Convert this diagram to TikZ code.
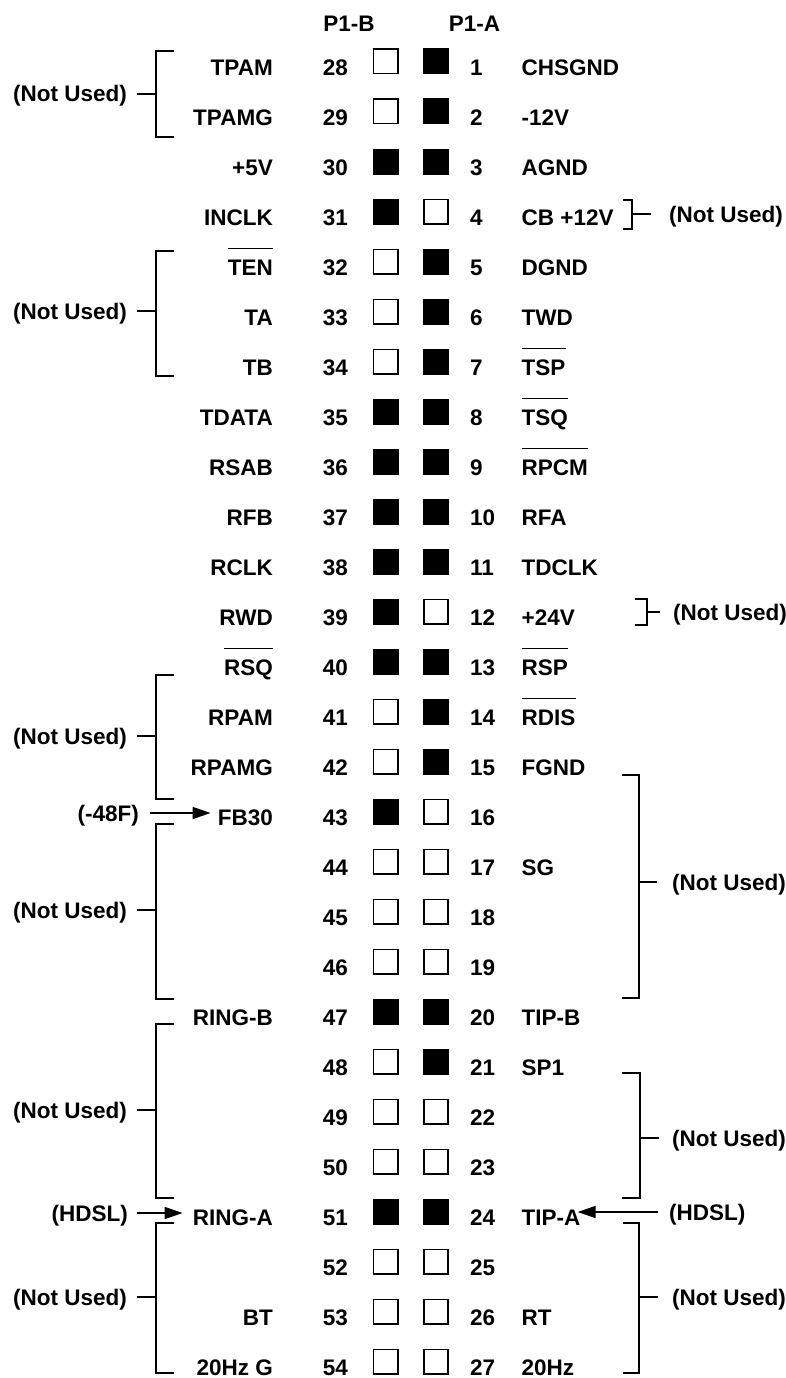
\documentclass[tikz,border=0pt]{standalone}
\usepackage{fontspec}
\setmainfont{Liberation Sans}
\usetikzlibrary{arrows.meta}
\tikzset{
  lbl/.style={font=\fontsize{22.5}{26}\selectfont\bfseries, inner sep=0pt, text height=16pt, text depth=0pt},
  pinon/.style={fill=black, minimum size=26pt, inner sep=0pt},
  pinoff/.style={draw=black, fill=white, line width=1.6pt, minimum size=24.4pt, inner sep=0pt},
  brk/.style={line width=1.8pt},
  ovl/.style={line width=1.5pt},
  arr/.style={line width=1.6pt, -{Triangle[length=18pt,width=12pt]}}
}
\newcommand\pinrow[7]{%
  \pgfmathsetmacro\yb{75.5+50*#1}%
  \if\relax\detokenize{#2}\relax\else\node[lbl,anchor=base east] (lb#1) at (273,\yb) {#2};\fi
  \node[lbl,anchor=base east] (nb#1) at (348,\yb) {#3};
  \node[#4] (sb#1) at (385.5,\yb-14) {};
  \node[#5] (sa#1) at (436,\yb-14) {};
  \node[lbl,anchor=base west] (na#1) at (470,\yb) {#6};
  \if\relax\detokenize{#7}\relax\else\node[lbl,anchor=base west] (la#1) at (521.5,\yb) {#7};\fi
}
% name, top, bottom, dash y
\newcommand\leftbrk[4]{%
  \draw[brk] (174,#2) -- (156,#2) -- (156,#3) -- (174,#3);
  \node[lbl,anchor=east] (#1) at (127,#4) {(Not Used)};
  \coordinate (#1c) at (156,#4);
  \draw[brk, shorten <=10pt] (#1.east) -- (#1c);
}
% name, vertical x, tick x, top, bottom, dash y, text x, gap
\newcommand\rightbrk[8]{%
  \draw[brk] (#3,#4) -- (#2,#4) -- (#2,#5) -- (#3,#5);
  \node[lbl,anchor=west] (#1) at (#7,#6) {(Not Used)};
  \coordinate (#1c) at (#2,#6);
  \draw[brk, shorten >=#8pt] (#1c) -- (#1.west);
}
\begin{document}
\begin{tikzpicture}[x=1pt,y=-1pt]
\useasboundingbox (0,0) rectangle (786,1378);
\node[lbl,anchor=base] (hb) at (349,31.5) {P1-B};
\node[lbl,anchor=base] (ha) at (474.5,31.5) {P1-A};
\pinrow{0}{TPAM}{28}{pinoff}{pinon}{1}{CHSGND}
\pinrow{1}{TPAMG}{29}{pinoff}{pinon}{2}{-12V}
\pinrow{2}{+5V}{30}{pinon}{pinon}{3}{AGND}
\pinrow{3}{INCLK}{31}{pinon}{pinoff}{4}{CB +12V}
\pinrow{4}{TEN}{32}{pinoff}{pinon}{5}{DGND}
\pinrow{5}{TA}{33}{pinoff}{pinon}{6}{TWD}
\pinrow{6}{TB}{34}{pinoff}{pinon}{7}{TSP}
\pinrow{7}{TDATA}{35}{pinon}{pinon}{8}{TSQ}
\pinrow{8}{RSAB}{36}{pinon}{pinon}{9}{RPCM}
\pinrow{9}{RFB}{37}{pinon}{pinon}{10}{RFA}
\pinrow{10}{RCLK}{38}{pinon}{pinon}{11}{TDCLK}
\pinrow{11}{RWD}{39}{pinon}{pinoff}{12}{+24V}
\pinrow{12}{RSQ}{40}{pinon}{pinon}{13}{RSP}
\pinrow{13}{RPAM}{41}{pinoff}{pinon}{14}{RDIS}
\pinrow{14}{RPAMG}{42}{pinoff}{pinon}{15}{FGND}
\pinrow{15}{FB30}{43}{pinon}{pinoff}{16}{}
\pinrow{16}{}{44}{pinoff}{pinoff}{17}{SG}
\pinrow{17}{}{45}{pinoff}{pinoff}{18}{}
\pinrow{18}{}{46}{pinoff}{pinoff}{19}{}
\pinrow{19}{RING-B}{47}{pinon}{pinon}{20}{TIP-B}
\pinrow{20}{}{48}{pinoff}{pinon}{21}{SP1}
\pinrow{21}{}{49}{pinoff}{pinoff}{22}{}
\pinrow{22}{}{50}{pinoff}{pinoff}{23}{}
\pinrow{23}{RING-A}{51}{pinon}{pinon}{24}{TIP-A}
\pinrow{24}{}{52}{pinoff}{pinoff}{25}{}
\pinrow{25}{BT}{53}{pinoff}{pinoff}{26}{RT}
\pinrow{26}{20Hz G}{54}{pinoff}{pinoff}{27}{20Hz}
\foreach \n in {lb4,lb12,la6,la7,la8,la12,la13}
  \draw[ovl] ([yshift=11pt]\n.north west) -- ([yshift=11pt]\n.north east);
\leftbrk{nuL1}{51}{137}{94}
\leftbrk{nuL2}{251}{376}{311}
\leftbrk{nuL3}{675}{799}{736}
\leftbrk{nuL4}{824}{999}{910}
\leftbrk{nuL5}{1024}{1198}{1110}
\leftbrk{nuL6}{1223}{1373}{1297}
\rightbrk{nuR1}{632}{623}{200}{229}{214}{669}{18}
\rightbrk{nuR2}{647}{635}{599}{625}{612}{673}{13}
\rightbrk{nuR3}{639}{622}{775}{998}{882}{672}{15}
\rightbrk{nuR4}{640}{622}{1073}{1198}{1138}{672}{13}
\rightbrk{nuR5}{639}{623}{1223}{1373}{1297}{672}{14}
\node[lbl,anchor=east] (m48) at (139,813) {(-48F)};
\draw[arr, shorten <=11pt, shorten >=7pt] (m48.east) -- (m48.east -| lb15.west);
\node[lbl,anchor=east] (hl) at (128,1213) {(HDSL)};
\draw[arr, shorten <=9pt, shorten >=10pt] (hl.east) -- (hl.east -| lb23.west);
\node[lbl,anchor=west] (hr) at (669,1212) {(HDSL)};
\draw[arr, shorten <=11pt, shorten >=-3pt] (hr.west) -- (hr.west -| la23.east);
\end{tikzpicture}
\end{document}
